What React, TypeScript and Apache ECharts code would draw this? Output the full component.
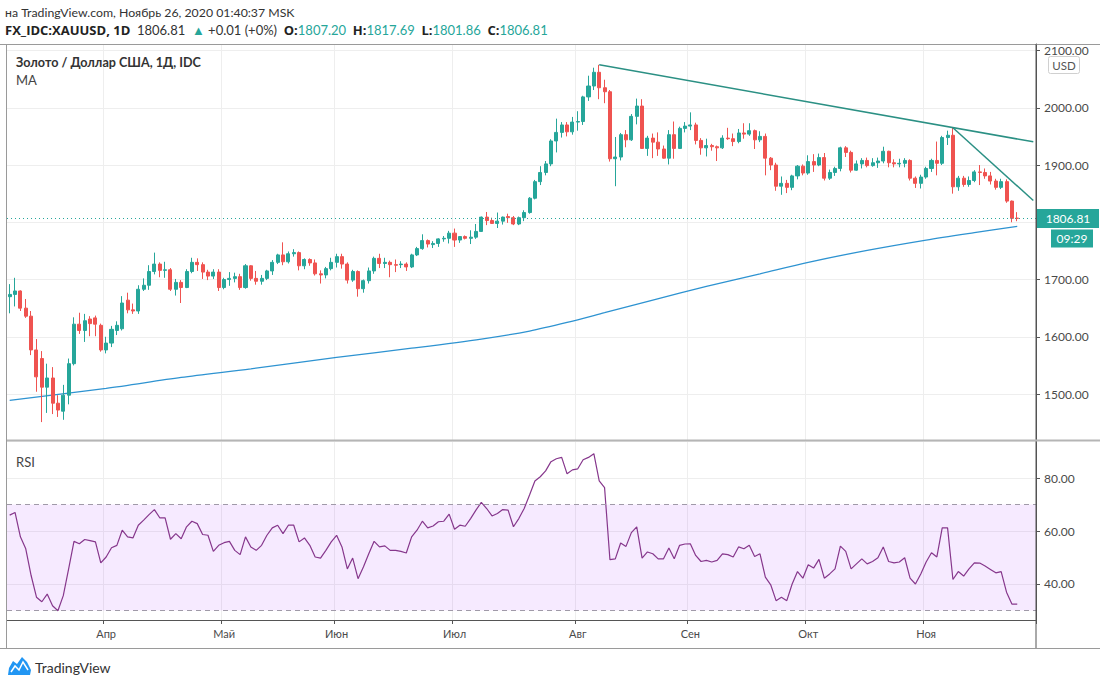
import React, { useEffect, useRef } from "react";
import * as echarts from "echarts";

const FONT = "Lato, 'Noto Sans', sans-serif";
const BOLD_FONT = "'Open Sans', Lato, sans-serif";
const UP = "#26a69a";
const DOWN = "#ef5350";

// Daily XAUUSD bars, 6 Mar 2020 .. 25 Nov 2020
const opens = [
  1670,1674,1680,1650,1636,1577,1562,1512,1528,1484,1470,1498,1553,1622,1611,1631,1633,1620,
  1577,1589,1611,1614,1664,1647,1645,1683,1690,1714,1727,1716,1717,1683,1695,1686,1714,1730,1726,1713,1706,1713,
  1686,1700,1702,1705,1686,1724,1702,1697,1702,1715,1730,1743,1731,1745,1747,1724,1735,1729,1710,1708,1719,
  1730,1740,1727,1699,1714,1684,1698,1715,1737,1728,1730,1726,1726,1727,1722,1743,1754,1768,1761,1763,1771,1772,
  1781,1769,1775,1772,1774,1784,1809,1803,1798,1802,1810,1808,1797,1808,1817,1842,1871,1887,1902,1942,1957,1970,1958,
  1975,1976,2019,2038,2062,2035,2028,1911,1914,1953,1944,1985,2003,1929,1947,1940,1928,1912,1953,1929,1964,
  1968,1970,1943,1930,1934,1932,1930,1947,1946,1941,1956,1954,1960,1944,1950,1912,1900,1863,1868,1861,1881,1898,
  1886,1906,1900,1913,1877,1887,1894,1930,1922,1891,1902,1908,1899,1904,1907,1924,1904,1902,1903,1908,1877,1868,
  1879,1894,1908,1903,1948,1952,1862,1877,1866,1873,1888,1887,1881,1872,1861,1871,1837,1807.2,
];
const closes = [
  1674,1680,1650,1636,1577,1530,1512,1528,1484,1472,1498,1553,1622,1611,1628,1623,1622,1577,
  1589,1613,1620,1659,1647,1645,1683,1690,1714,1727,1716,1717,1683,1695,1686,1714,1730,1726,1713,1706,1713,1686,
  1700,1702,1705,1686,1724,1702,1697,1702,1715,1730,1743,1731,1745,1747,1724,1735,1729,1710,1708,1719,1730,
  1740,1727,1699,1714,1684,1698,1715,1737,1728,1730,1726,1725,1727,1722,1743,1754,1768,1762,1763,1771,1772,1781,
  1769,1775,1772,1774,1784,1809,1803,1798,1802,1809,1808,1797,1808,1817,1842,1871,1887,1902,1942,1957,1970,1958,1975,
  1976,2019,2038,2062,2035,2028,1911,1914,1953,1944,1985,2003,1929,1947,1940,1928,1912,1953,1929,1964,1968,
  1970,1943,1930,1934,1932,1930,1947,1946,1941,1956,1954,1960,1944,1950,1912,1900,1863,1868,1861,1881,1898,1886,
  1906,1900,1913,1877,1887,1894,1930,1922,1891,1902,1908,1899,1904,1907,1924,1904,1902,1903,1908,1877,1868,1879,
  1894,1908,1903,1948,1952,1862,1877,1866,1873,1888,1887,1881,1872,1861,1871,1837,1806.8,1806.81,
];
const lows = [
  1641,1653,1645,1633,1568,1504,1451,1467,1465,1460,1455,1482,1550,1605,1591,1601,1601,1574,
  1571,1582,1603,1611,1641,1640,1640,1680,1682,1709,1704,1703,1680,1672,1659,1685,1711,1715,1701,1699,1701,1680,
  1683,1689,1695,1682,1684,1698,1691,1691,1699,1708,1727,1725,1728,1740,1716,1718,1724,1707,1693,1702,1716,
  1721,1719,1693,1696,1670,1677,1693,1710,1720,1720,1704,1713,1720,1715,1720,1741,1752,1756,1755,1757,1766,1763,
  1757,1764,1770,1762,1771,1783,1795,1797,1790,1796,1799,1795,1795,1802,1815,1840,1865,1882,1898,1922,1948,1950,1953,
  1960,1970,2012,2031,2015,2008,1906,1863,1908,1931,1942,1971,1928,1916,1912,1916,1911,1901,1911,1928,1957,
  1961,1936,1918,1915,1925,1907,1928,1944,1933,1938,1946,1951,1928,1940,1882,1891,1855,1848,1851,1856,1875,1882,
  1883,1888,1898,1873,1874,1881,1889,1914,1887,1890,1894,1896,1897,1895,1903,1896,1896,1896,1896,1873,1860,1859,
  1876,1888,1882,1900,1935,1850,1855,1862,1862,1870,1865,1876,1866,1857,1858,1834,1800,1801.86,
];
const highs = [
  1692,1703,1681,1666,1645,1596,1575,1553,1547,1498,1516,1562,1634,1642,1640,1636,1637,1623,
  1600,1619,1627,1671,1677,1658,1690,1702,1725,1747,1730,1731,1720,1701,1699,1718,1738,1737,1730,1717,1718,1718,
  1703,1713,1712,1710,1727,1725,1715,1708,1717,1734,1745,1765,1749,1753,1749,1737,1737,1735,1716,1722,1738,
  1745,1745,1730,1717,1716,1700,1721,1740,1745,1738,1733,1735,1732,1730,1745,1757,1779,1770,1767,1772,1776,1785,
  1789,1776,1777,1786,1797,1810,1818,1808,1817,1810,1815,1811,1810,1821,1844,1874,1898,1907,1945,1981,1975,1975,1984,
  1994,2021,2056,2070,2075,2049,2031,1949,1956,1961,1989,2016,2015,1951,1955,1957,1934,1961,1976,1967,1975,
  1992,1974,1947,1946,1937,1934,1952,1965,1955,1963,1973,1973,1962,1959,1955,1914,1904,1880,1874,1883,1900,1901,
  1917,1919,1920,1921,1892,1897,1932,1933,1925,1908,1912,1913,1912,1913,1932,1925,1910,1911,1912,1910,1880,1883,
  1897,1911,1941,1951,1960,1965,1881,1881,1880,1891,1900,1894,1888,1876,1876,1875,1838,1817.69,
];
const rsiValues = [
  66,67,57.8,53.3,43.2,35,33.3,36.2,31.8,29.9,35.6,45.7,56.1,55.2,56.8,56.4,55.9,48,
  50.2,53.7,54.6,60.3,57.8,57.4,62.2,64.1,66.2,68.1,65,65,56.9,59,57.1,61.6,63.7,62.8,58.7,58.4,52.3,54.6,
  55.6,56.1,52.7,51.1,57.8,54,52.7,54.6,58.4,61.2,62.2,59,62.2,62.2,55.9,57.4,54.6,50.2,49.8,52.7,55.9,
  58.4,54,45.7,49.8,42,46.4,51.4,56.1,54,54.4,52.7,52.7,52.3,51.7,57.8,60.3,63.7,61.2,61.9,63.5,63.7,66.4,
  60.7,62.2,61.8,64.7,67.9,70.8,68.5,65.7,66.6,68.1,67.9,61.6,64.7,68.5,73.6,78.9,80.5,82.7,86.2,87.3,87.8,81.6,83.1,
  83.5,86.9,87.8,89.2,78.9,76.4,49.2,49.5,55.5,54.2,59.4,61.6,49.8,52.1,51.4,49.5,49.5,53.6,49.5,54.6,55.1,
  55.2,50.8,48.5,48.9,48.3,48.9,51.4,51.1,50.2,54,53.3,54.6,50.4,51.4,42.6,39.7,33.7,35,33.7,40,44.7,42.2,
  47.3,46,49.3,42.2,43.8,45.7,54.3,52.3,45.7,47.6,49.5,47.6,48.5,49.9,54,48.5,48,48.3,49.9,42.2,40,43.8,
  48.3,51.8,50.2,61.2,61.2,41.7,44.7,43,45.7,48,47.9,46.8,45.5,44.2,44.7,36.9,32.4,32.4,
];
// MA read at a few bars: [bar index, value]
const maPoints: [number, number][] = [
  [0, 1489], [18, 1510], [32, 1529], [45, 1544], [61, 1564], [75, 1580], [88, 1596], [97, 1610], [104, 1625],
  [111, 1642], [120, 1664], [130, 1688], [140, 1710], [149, 1730], [160, 1751], [171, 1769], [180, 1782], [188, 1793],
];
// Trend lines: [bar index, price]
const trendA: [number, number][] = [[110, 2075], [191, 1940.5]];
const trendB: [number, number][] = [[176, 1965], [191, 1838]];
const monthNames = ["Янв", "Фев", "Мар", "Апр", "Май", "Июн", "Июл", "Авг", "Сен", "Окт", "Ноя", "Дек"];
const RIGHT_PAD = 3;

function tradingDays(y: number, m: number, day: number, count: number): string[] {
  const out: string[] = [];
  const d = new Date(Date.UTC(y, m - 1, day));
  while (out.length < count) {
    const wd = d.getUTCDay();
    if (wd !== 0 && wd !== 6) out.push(d.toISOString().slice(0, 10));
    d.setUTCDate(d.getUTCDate() + 1);
  }
  return out;
}

const BAR_COUNT = closes.length;
const dates = tradingDays(2020, 3, 6, BAR_COUNT + RIGHT_PAD);
const monthStarts = new Set<number>();
for (let i = 1; i < BAR_COUNT; i++) {
  if (dates[i].slice(5, 7) !== dates[i - 1].slice(5, 7)) monthStarts.add(i);
}
const isMonthStart = (idx: number) => monthStarts.has(idx);

function sparse(points: [number, number][], len: number) {
  const arr: (number | null)[] = new Array(len).fill(null);
  points.forEach(([i, v]) => (arr[i] = v));
  return arr;
}

export default function App() {
  const ref = useRef<HTMLDivElement>(null);
  useEffect(() => {
    if (!ref.current) return;
    const chart = echarts.init(ref.current, null, { renderer: "svg" });
    const last = BAR_COUNT - 1;
    const lastClose = closes[last];
    const change = lastClose - closes[last - 1];

    const gridLine = { show: true, lineStyle: { color: "#eeeeee", width: 1 } };
    const xBase = {
      type: "category" as const,
      data: dates,
      boundaryGap: true,
      axisLine: { show: false },
      axisTick: { show: false },
      axisLabel: { show: false },
      splitLine: { ...gridLine, interval: (i: number) => isMonthStart(i) },
    };

    const option: any = {
      animation: false,
      backgroundColor: "#ffffff",
      grid: [
        { left: 7, right: 64, top: 44, height: 396 },
        { left: 7, right: 64, top: 441, height: 179 },
      ],
      xAxis: [
        { ...xBase, gridIndex: 0 },
        {
          ...xBase,
          gridIndex: 1,
          axisLine: { show: true, lineStyle: { color: "#555555" } },
          axisTick: { show: true, interval: (i: number) => isMonthStart(i), length: 4, lineStyle: { color: "#555" } },
          axisLabel: {
            show: true,
            interval: (i: number) => isMonthStart(i),
            formatter: (v: string) => monthNames[parseInt(v.slice(5, 7), 10) - 1],
            color: "#4a4a4a",
            fontSize: 11,
            fontFamily: FONT,
            margin: 8,
          },
        },
      ],
      yAxis: [
        {
          type: "value",
          gridIndex: 0,
          position: "right",
          min: 1419.7,
          max: 2111.4,
          splitNumber: 7,
          axisLine: { show: true, lineStyle: { color: "#555555" } },
          axisTick: { show: true, length: 4, lineStyle: { color: "#555" } },
          axisLabel: {
            color: "#4a4a4a",
            fontSize: 12,
            fontFamily: FONT,
            margin: 8,
            showMinLabel: false,
            showMaxLabel: false,
            // the tick label hidden under the last-price tag is left out
            formatter: (v: number) => (Math.abs(v - lastClose) < 15 ? "" : v.toFixed(2)),
          },
          splitLine: gridLine,
        },
        {
          type: "value",
          gridIndex: 1,
          position: "right",
          min: 26.4,
          max: 94,
          splitNumber: 3,
          axisLine: { show: true, lineStyle: { color: "#555555" } },
          axisTick: { show: true, length: 4, lineStyle: { color: "#555" } },
          axisLabel: {
            color: "#4a4a4a",
            fontSize: 12,
            fontFamily: FONT,
            margin: 8,
            showMinLabel: false,
            showMaxLabel: false,
            formatter: (v: number) => v.toFixed(2),
          },
          splitLine: gridLine,
        },
      ],
      series: [
        {
          type: "line",
          name: "MA",
          xAxisIndex: 0,
          yAxisIndex: 0,
          data: sparse(maPoints, BAR_COUNT),
          connectNulls: true,
          showSymbol: false,
          symbol: "none",
          smooth: 0.3,
          lineStyle: { color: "#2e93d1", width: 1.3 },
          z: 2,
        },
        {
          type: "candlestick",
          name: "XAUUSD",
          xAxisIndex: 0,
          yAxisIndex: 0,
          barWidth: "66%",
          data: opens.map((o, i) => [o, closes[i], lows[i], highs[i]]),
          itemStyle: { color: UP, color0: DOWN, borderColor: UP, borderColor0: DOWN, borderWidth: 1 },
          markLine: {
            silent: true,
            symbol: ["none", "none"],
            label: { show: false },
            lineStyle: { color: UP, type: [1, 3], width: 1 },
            data: [{ yAxis: lastClose }],
          },
          z: 3,
        },
        {
          type: "line",
          name: "trendA",
          xAxisIndex: 0,
          yAxisIndex: 0,
          data: sparse(trendA, dates.length),
          connectNulls: true,
          symbol: "none",
          lineStyle: { color: "#2b9084", width: 1.5 },
          z: 4,
        },
        {
          type: "line",
          name: "trendB",
          xAxisIndex: 0,
          yAxisIndex: 0,
          data: sparse(trendB, dates.length),
          connectNulls: true,
          symbol: "none",
          lineStyle: { color: "#2b9084", width: 1.5 },
          z: 4,
        },
        {
          type: "line",
          name: "RSI",
          xAxisIndex: 1,
          yAxisIndex: 1,
          data: rsiValues,
          symbol: "none",
          lineStyle: { color: "#86378c", width: 1.2 },
          markArea: {
            silent: true,
            itemStyle: { color: "rgba(153, 21, 255, 0.09)" },
            data: [[{ yAxis: 30 }, { yAxis: 70 }]],
          },
          markLine: {
            silent: true,
            symbol: ["none", "none"],
            label: { show: false },
            lineStyle: { color: "#a09aa8", type: [5, 4], width: 1 },
            data: [{ yAxis: 70 }, { yAxis: 30 }],
          },
          z: 3,
        },
      ],
    };
    chart.setOption(option);

    const py = chart.convertToPixel({ yAxisIndex: 0 }, lastClose) as number;
    const txt = (text: string, x: number, y: number, extra: any = {}) => ({
      type: "text",
      z: 100,
      style: { text, x, y, fill: "#222222", font: `13px ${FONT}`, verticalAlign: "middle", ...extra },
    });
    const rs = (fill: string, weight = "normal", family = FONT, size = 13) => ({
      fill,
      fontWeight: weight,
      fontSize: size,
      fontFamily: family,
    });
    const fmt = (v: number) => v.toFixed(2);
    const sign = change >= 0 ? "+" : "-";
    const header2 =
      `{b|FX_IDC:XAUUSD, 1D}  {n|${fmt(lastClose)}}  {g|${change >= 0 ? "▲" : "▼"}} {n|${sign}${Math.abs(change).toFixed(2)} (${sign}0%)}  ` +
      `{b|O:}{g|${fmt(opens[last])}}  {b|H:}{g|${fmt(highs[last])}}  {b|L:}{g|${fmt(lows[last])}}  {b|C:}{g|${fmt(lastClose)}}`;

    chart.setOption({
      graphic: [
        // frame
        { type: "line", z: 90, shape: { x1: 0, y1: 44.5, x2: 1100, y2: 44.5 }, style: { stroke: "#9a9a9a", lineWidth: 1 } },
        { type: "line", z: 90, shape: { x1: 6.5, y1: 44, x2: 6.5, y2: 648 }, style: { stroke: "#9a9a9a", lineWidth: 1 } },
        { type: "line", z: 90, shape: { x1: 0, y1: 648.5, x2: 1100, y2: 648.5 }, style: { stroke: "#9a9a9a", lineWidth: 1 } },
        { type: "line", z: 90, shape: { x1: 1036, y1: 44, x2: 1036, y2: 648 }, style: { stroke: "#555555", lineWidth: 1 } },
        { type: "line", z: 90, shape: { x1: 7, y1: 440.5, x2: 1100, y2: 440.5 }, style: { stroke: "#b5b5b5", lineWidth: 2 } },
        // header
        txt("на TradingView.com, Ноябрь 26, 2020 01:40:37 MSK", 5, 12, { fill: "#333333", font: `12.3px ${FONT}` }),
        {
          type: "text",
          z: 100,
          style: {
            text: header2,
            x: 5,
            y: 30,
            verticalAlign: "middle",
            font: `13px ${FONT}`,
            rich: { b: rs("#222222", "bold", BOLD_FONT, 13), n: rs("#333333"), g: rs(UP) },
          },
        },
        // pane titles
        txt("Золото / Доллар США, 1Д, IDC", 16, 62, { font: `bold 12.6px ${FONT}`, fill: "#333333" }),
        txt("MA", 16, 80, { fill: "#444444" }),
        txt("RSI", 16, 462, { fill: "#444444" }),
        // USD box
        { type: "rect", z: 100, shape: { x: 1048.5, y: 56.5, width: 31, height: 17, r: 2 }, style: { fill: "#ffffff", stroke: "#d0d0d0", lineWidth: 1 } },
        txt("USD", 1064, 65, { fill: "#555555", font: `11.5px ${FONT}`, align: "center" }),
        // last price label
        { type: "rect", z: 100, shape: { x: 1037, y: py - 9.5, width: 62, height: 19 }, style: { fill: UP } },
        txt(fmt(lastClose), 1068, py, { fill: "#ffffff", font: `12px ${FONT}`, align: "center" }),
        { type: "rect", z: 100, shape: { x: 1051, y: py + 11, width: 42, height: 18 }, style: { fill: UP } },
        txt("09:29", 1072, py + 20, { fill: "#ffffff", font: `12px ${FONT}`, align: "center" }),
        // TradingView logo
        {
          type: "polygon",
          z: 100,
          shape: { points: [[8, 675], [9, 668], [13, 661], [17, 664], [22, 657], [27, 662], [31, 670], [30, 675]] },
          style: { fill: "#2196f3" },
        },
        {
          type: "polyline",
          z: 101,
          shape: { points: [[11, 672], [15, 666], [19, 670], [23, 662], [28, 670]] },
          style: { stroke: "#ffffff", lineWidth: 1.5, fill: null },
        },
        txt("TradingView", 35, 667, { fill: "#333333", font: `14px ${FONT}` }),
      ],
    });

    return () => chart.dispose();
  }, []);

  return <div ref={ref} style={{ position: "fixed", left: 0, top: 0, width: 1100, height: 686, background: "#fff" }} />;
}
